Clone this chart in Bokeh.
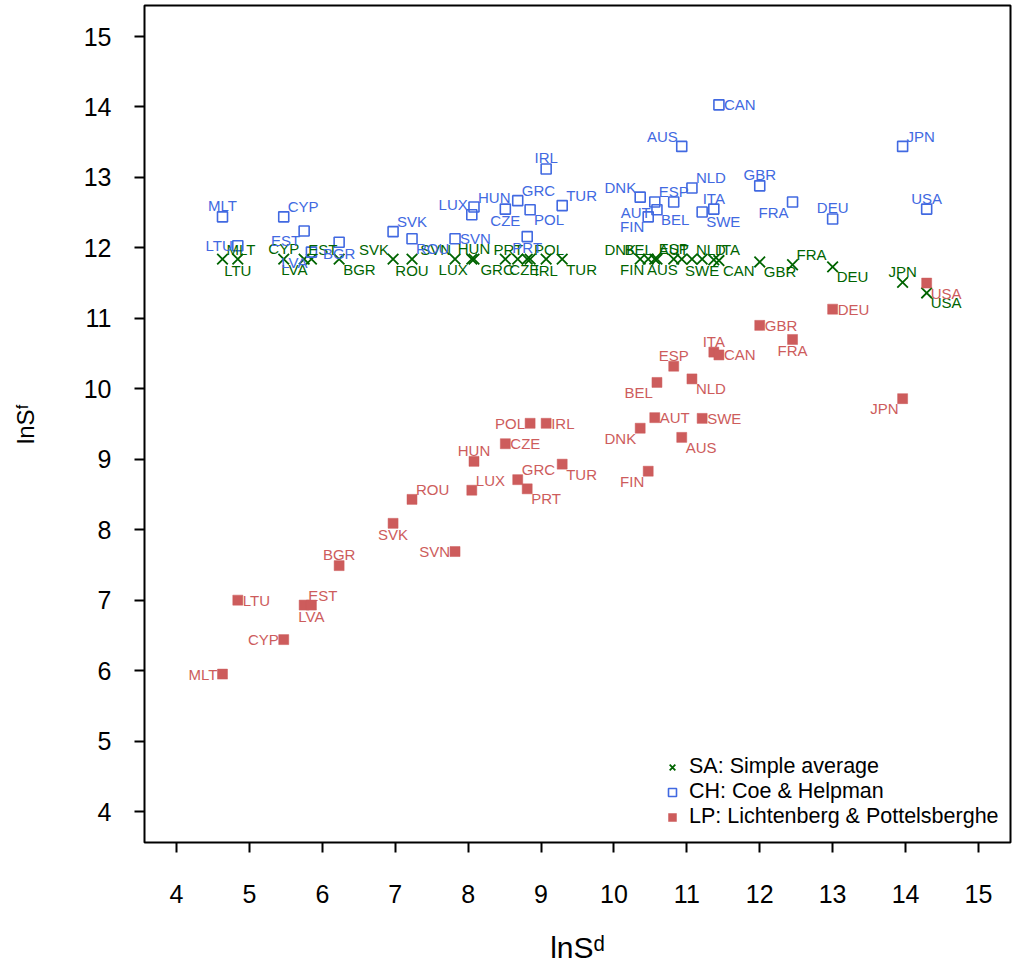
from bokeh.plotting import figure
from bokeh.models import Range1d, FixedTicker, ColumnDataSource, Legend, LegendItem
from bokeh.embed import file_html
from bokeh.resources import INLINE
from bokeh.core.properties import value

# ---------------- data ----------------
countries = ["MLT", "LTU", "CYP", "EST", "LVA", "BGR", "SVK", "ROU", "SVN", "LUX",
             "HUN", "CZE", "GRC", "PRT", "POL", "IRL", "TUR", "DNK", "FIN", "AUT",
             "BEL", "ESP", "AUS", "NLD", "SWE", "ITA", "CAN", "GBR", "FRA", "DEU",
             "JPN", "USA"]
ln_sd = [4.63, 4.84, 5.47, 5.75, 5.85, 6.23, 6.97, 7.23, 7.82, 8.05,
         8.08, 8.51, 8.68, 8.81, 8.85, 9.07, 9.29, 10.36, 10.47, 10.56,
         10.59, 10.82, 10.93, 11.07, 11.21, 11.37, 11.44, 12.00, 12.45, 13.00,
         13.96, 14.29]
sa_sf = [11.84, 11.84, 11.84, 11.84, 11.84, 11.84, 11.84, 11.84, 11.84, 11.84,
         11.84, 11.84, 11.84, 11.84, 11.84, 11.84, 11.84, 11.84, 11.84, 11.84,
         11.84, 11.84, 11.84, 11.84, 11.84, 11.83, 11.82, 11.80, 11.76, 11.73,
         11.51, 11.36]
ch_sf = [12.44, 12.03, 12.44, 12.24, 11.94, 12.08, 12.23, 12.13, 12.13, 12.47,
         12.58, 12.55, 12.67, 12.16, 12.54, 13.12, 12.60, 12.72, 12.44, 12.65,
         12.54, 12.65, 13.44, 12.85, 12.51, 12.55, 14.03, 12.88, 12.65, 12.41,
         13.44, 12.55]
lp_sf = [5.95, 7.00, 6.44, 6.93, 6.93, 7.49, 8.09, 8.43, 7.69, 8.56,
         8.97, 9.22, 8.71, 8.58, 9.51, 9.51, 8.93, 9.44, 8.83, 9.59,
         10.09, 10.32, 9.31, 10.14, 9.58, 10.52, 10.48, 10.90, 10.70, 11.13,
         9.86, 11.50]
x_ticks = [4, 5, 6, 7, 8, 9, 10, 11, 12, 13, 14, 15]
y_ticks = [4, 5, 6, 7, 8, 9, 10, 11, 12, 13, 14, 15]
series_names = ["SA: Simple average", "CH: Coe & Helpman",
                "LP: Lichtenberg & Pottelsberghe"]

# ---------------- label placement (layout, not data) ----------------
SA_POS = ["NE", "S", "N", "NE", "SW", "SE", "NW", "S", "NW", "SW",
          "N", "SE", "SW", "NW", "NE", "S", "SE", "NW", "SW", "NE",
          "NW", "N", "SW", "NE", "S", "NE", "SE", "SE", "NE", "SE",
          "N", "SE"]
CH_POS = ["N", "W", "NE", "SW", "SW", "S", "NE", "SE", "E", "NW",
          "NE", "S", "NE", "S", "SE", "N", "NE", "NW", "SW", "SW",
          "SE", "N", "NW", "NE", "SE", "N", "E", "N", "SW", "N",
          "NE", "N"]
LP_POS = ["W", "E", "W", "NE", "S", "N", "S", "NE", "W", "NE",
          "N", "E", "NE", "SE", "W", "E", "SE", "SW", "SW", "E",
          "SW", "N", "SE", "SE", "E", "N", "E", "E", "S", "E",
          "SW", "SE"]
OFFS = {"N": ("center", 0, -11), "S": ("center", 0, 11),
        "E": ("left", 5, 0), "W": ("right", -5, 0),
        "NE": ("left", 4, -10), "NW": ("right", -4, -10),
        "SE": ("left", 4, 10), "SW": ("right", -4, 10)}

GREEN = "#006400"
BLUE = "#4169E1"
RED = "#CD5C5C"
FONT = "Liberation Sans"

p = figure(width=1016, height=968,
           x_range=Range1d(3.56, 15.44), y_range=Range1d(3.56, 15.44),
           output_backend="svg", toolbar_location=None,
           min_border_left=144, min_border_right=6,
           min_border_top=5, min_border_bottom=126)
p.background_fill_color = "white"
p.border_fill_color = "white"
p.outline_line_color = "black"
p.outline_line_width = 2
p.xgrid.visible = False
p.ygrid.visible = False

for ax, ticks in ((p.xaxis, x_ticks), (p.yaxis, y_ticks)):
    ax.ticker = FixedTicker(ticks=ticks)
    ax.axis_line_color = None
    ax.major_tick_out = 10
    ax.major_tick_in = 0
    ax.major_tick_line_width = 2
    ax.major_tick_line_color = "black"
    ax.minor_tick_line_color = None
    ax.major_label_text_font = FONT
    ax.major_label_text_font_size = "25px"
    ax.major_label_text_color = "black"
    ax.axis_label_text_font = FONT
    ax.axis_label_text_font_style = "normal"
    ax.axis_label_text_color = "black"

p.xaxis.major_label_standoff = 32
p.yaxis.major_label_standoff = 23
p.xaxis.axis_label = "lnSᵈ"
p.yaxis.axis_label = "lnSᶠ"
p.xaxis.axis_label_text_font_size = "30px"
p.yaxis.axis_label_text_font_size = "24px"
p.xaxis.axis_label_standoff = 25
p.yaxis.axis_label_standoff = 42


def make_src(yvals, pos):
    return ColumnDataSource(dict(
        x=ln_sd, y=yvals, name=countries,
        align=[OFFS[k][0] for k in pos],
        xo=[OFFS[k][1] for k in pos],
        yo=[OFFS[k][2] for k in pos]))


src_sa = make_src(sa_sf, SA_POS)
src_ch = make_src(ch_sf, CH_POS)
src_lp = make_src(lp_sf, LP_POS)

r_sa = p.scatter("x", "y", source=src_sa, marker="x", size=15,
                 line_color=GREEN, line_width=1.8)
r_ch = p.scatter("x", "y", source=src_ch, marker="square", size=10,
                 fill_color=None, line_color=BLUE, line_width=1.6)
r_lp = p.scatter("x", "y", source=src_lp, marker="square", size=10,
                 fill_color=RED, line_color=RED, line_width=0.5)

for src, col in ((src_sa, GREEN), (src_ch, BLUE), (src_lp, RED)):
    p.text("x", "y", text="name", source=src, text_align="align",
           text_baseline="middle", x_offset="xo", y_offset="yo",
           text_font=value(FONT), text_font_size="15px", text_color=col)

legend = Legend(items=[LegendItem(label=series_names[0], renderers=[r_sa]),
                       LegendItem(label=series_names[1], renderers=[r_ch]),
                       LegendItem(label=series_names[2], renderers=[r_lp])],
                location=(518, 13), orientation="vertical",
                background_fill_alpha=0, border_line_color=None,
                padding=0, margin=0, spacing=0,
                glyph_width=20, glyph_height=20, label_height=20,
                label_standoff=7,
                label_text_font=FONT, label_text_font_size="21.5px",
                label_text_color="black")
p.add_layout(legend)

open("out.html", "w").write(file_html(p, INLINE))
